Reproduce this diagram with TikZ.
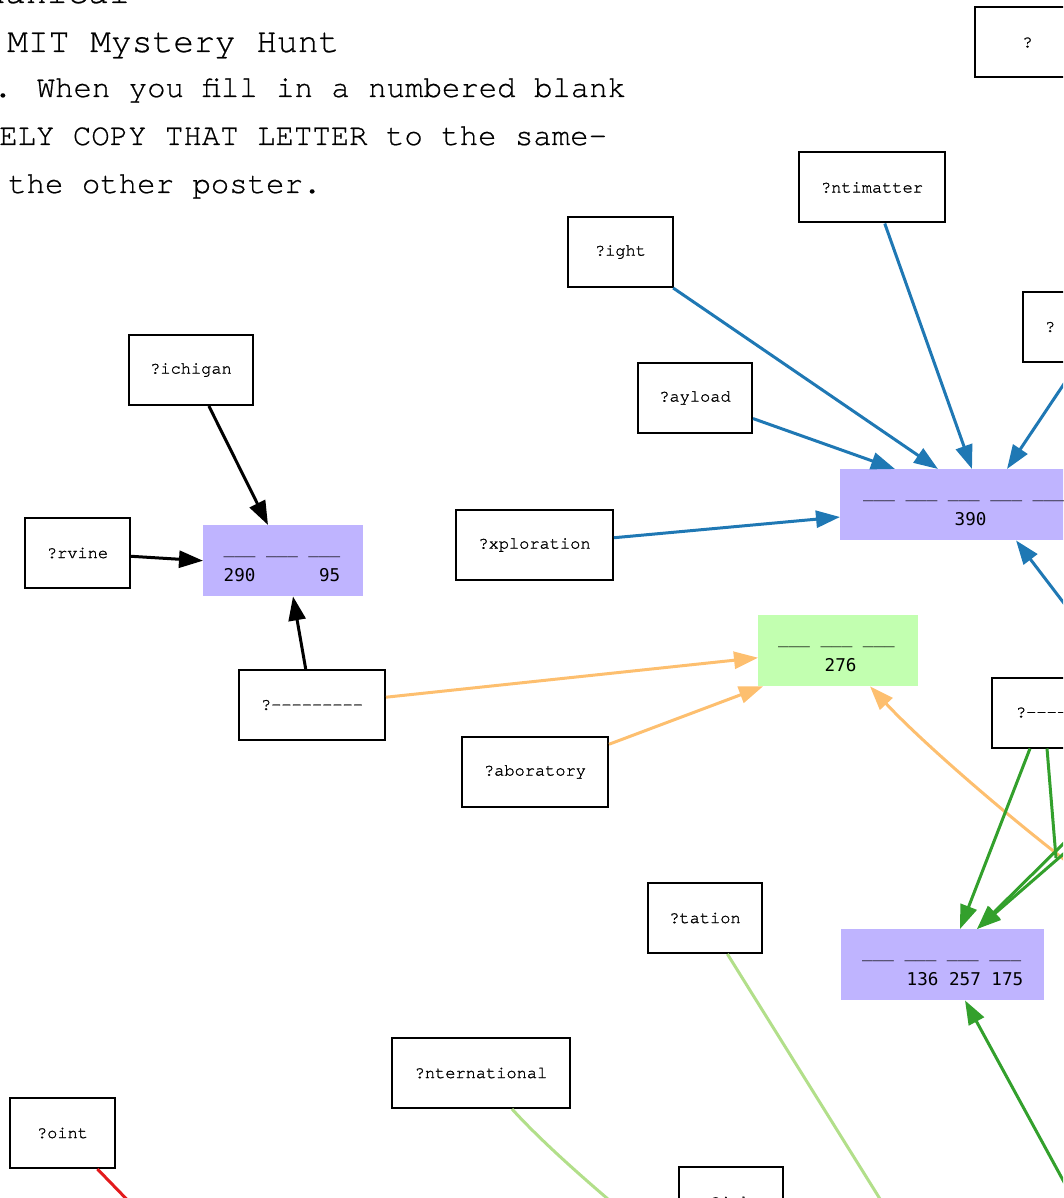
\documentclass[tikz,border=0pt]{standalone}
\usepackage{fontspec}
\usetikzlibrary{arrows.meta,calc}
\newfontfamily\lmono[FakeBold=1.2]{TeX Gyre Cursor}
\newfontfamily\hmono[FakeBold=0.6]{TeX Gyre Cursor}
\newfontfamily\dmono{DejaVu Sans Mono}
\definecolor{cblue}{RGB}{31,120,180}
\definecolor{corange}{RGB}{253,191,111}
\definecolor{cgreen}{RGB}{51,160,44}
\definecolor{clgreen}{RGB}{178,223,138}
\definecolor{cred}{RGB}{227,26,28}
\definecolor{purp}{RGB}{191,180,255}
\definecolor{lgfill}{RGB}{194,255,176}
\tikzset{
  wbox/.style={draw=black, line width=2pt, fill=white, minimum height=70pt, inner sep=0pt,
    font=\lmono\fontsize{17pt}{20pt}\selectfont},
  fbx/.style={minimum height=71pt, inner sep=0pt, anchor=north west},
  bl/.style={inner sep=0pt, anchor=base west, font=\dmono\fontsize{17.6pt}{21pt}\selectfont},
  titletxt/.style={inner sep=0pt, font=\hmono\fontsize{34.6pt}{40pt}\selectfont},
  subtxt/.style={inner sep=0pt, anchor=base west, font=\hmono\fontsize{30.7pt}{36pt}\selectfont},
  edge/.style={line width=3pt, -{Triangle[length=24pt,width=17pt]}},
  plain/.style={line width=3pt},
}
\begin{document}
\begin{tikzpicture}[x=1pt,y=-1pt]
\useasboundingbox (0,0) rectangle (1063,1198);
\clip (0,0) rectangle (1063,1198);

% header text
\node[titletxt, anchor=base east] (h1) at (130,3) {Mechanical};
\node[titletxt, anchor=base west] (h2) at (7,52) {MIT Mystery Hunt};
\node[subtxt] (h3) at (-6.5,97) {. When you fill in a numbered blank};
\node[subtxt] (h4) at (-1,145) {ELY COPY THAT LETTER to the same-};
\node[subtxt] (h5) at (8,193) {the other poster.};

% filled answer boxes
\node[fbx, fill=purp, minimum width=160pt] (A) at (203,525) {};
\node[fbx, fill=purp, minimum width=300pt] (B) at (840,469) {};
\node[fbx, fill=lgfill, minimum width=160pt] (C) at (758,615) {};
\node[fbx, fill=purp, minimum width=203pt] (D) at (841,929) {};

\node[bl] (A1) at (223.5,553.5) {\_\_\_ \_\_\_ \_\_\_};
\node[bl] (A2) at (223.5,581) {290\hphantom{000000}95};
\node[bl] (B1) at (863,497.5) {\_\_\_ \_\_\_ \_\_\_ \_\_\_ \_\_\_ \_\_\_};
\node[bl] (B2) at (954.5,525) {390};
\node[bl] (C1) at (778,643.5) {\_\_\_ \_\_\_ \_\_\_};
\node[bl] (C2) at (824.5,671) {276};
\node[bl] (D1) at (862,957.5) {\_\_\_ \_\_\_ \_\_\_ \_\_\_};
\node[bl] (D2) at (906.5,985) {136 257 175};

% word boxes
\node[wbox, minimum width=124pt] (ichigan) at (191,370) {?ichigan};
\node[wbox, minimum width=105pt] (rvine) at (77.5,553) {?rvine};
\node[wbox, minimum width=146pt] (dashA) at (312,705) {?---------};
\node[wbox, minimum width=157pt] (xploration) at (534.5,545) {?xploration};
\node[wbox, minimum width=114pt] (ayload) at (695,398) {?ayload};
\node[wbox, minimum width=105pt] (ight) at (620.5,252) {?ight};
\node[wbox, minimum width=146pt] (ntimatter) at (872,187.5) {?ntimatter};
\node[wbox, minimum width=105pt] (qtop) at (1027.5,42.5) {?};
\node[wbox, minimum width=158pt, text width=114pt, align=left] (qright) at (1102,327) {?};
\node[wbox, minimum width=146pt, anchor=west] (qdash) at (991,712.5) {\hspace{4pt}?---------};
\node[wbox, minimum width=146pt] (aboratory) at (535,772) {?aboratory};
\node[wbox, minimum width=114pt] (tation) at (705,918) {?tation};
\node[wbox, minimum width=178pt] (nternational) at (481,1073) {?nternational};
\node[wbox, minimum width=105pt] (oint) at (62.5,1133) {?oint};
\node[wbox, minimum width=104pt] (bottom) at (731,1202) {?ink};

% free ends beyond the frame
\coordinate (bfree) at (1092,640);
\coordinate (ofree) at (1070,864);
\coordinate (gvend) at (1056,858);
\coordinate (ga) at (1068,839);
\coordinate (gb) at (1068,850);
\coordinate (gc) at (1082,1215);
\coordinate (ltfree) at (890,1215);
\coordinate (lifree) at (628,1216);
\coordinate (rfree) at (142,1215);

% black
\draw[edge, black] (ichigan) -- ($(A.north west)+(65,0)$);
\draw[edge, black] (rvine) -- (A.west);
\draw[edge, black] (dashA) -- ($(A.south west)+(90,0)$);

% blue
\draw[edge, cblue] (ight) -- ($(B.north west)+(98,0)$);
\draw[edge, cblue] (ntimatter) -- ($(B.north west)+(132,0)$);
\draw[edge, cblue] (ayload) -- ($(B.north west)+(55,0)$);
\draw[edge, cblue] (xploration) -- ($(B.north west)+(0,48)$);
\draw[edge, cblue] (qright) -- ($(B.north west)+(167,0)$);
\draw[edge, cblue] (bfree) -- ($(B.south west)+(176,0)$);

% orange
\draw[edge, corange] (dashA) -- ($(C.west)+(0,7)$);
\draw[edge, corange] (aboratory) -- ($(C.south west)+(5,0)$);
\draw[edge, corange] (ofree) .. controls (1000,810) and (920,740) .. ($(C.south west)+(112,0)$);

% green
\draw[edge, cgreen] ($(qdash.south west)+(39,0)$) -- ($(D.north west)+(119,0)$);
\draw[plain, cgreen] ($(qdash.south west)+(56,0)$) -- (gvend);
\draw[edge, cgreen] (ga) -- ($(D.north west)+(136,0)$);
\draw[edge, cgreen] (gb) -- ($(D.north west)+(136,0)$);
\draw[edge, cgreen] (gc) -- ($(D.south west)+(124,0)$);

% light green and red
\draw[plain, clgreen] (tation) -- (ltfree);
\draw[plain, clgreen] ($(nternational.south)+(31,0)$) .. controls (540,1140) and (585,1180) .. (lifree);
\draw[plain, cred] (oint) -- (rfree);
\end{tikzpicture}
\end{document}
